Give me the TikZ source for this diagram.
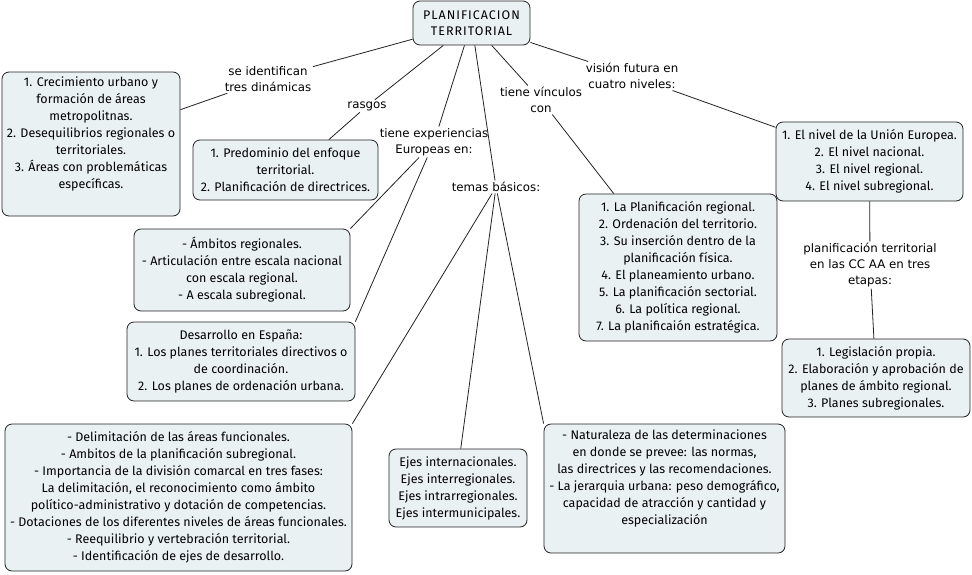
\documentclass[tikz,border=0pt]{standalone}
\usepackage{fontspec}
\setmainfont{Fira Sans}
\newfontfamily\lblfamily{DejaVu Sans}
\newfontfamily\boxfamily{Fira Sans}
\newfontfamily\capsfamily[LetterSpace=8]{Fira Sans}
\definecolor{boxfill}{HTML}{EAF1F3}
\definecolor{edgecol}{HTML}{222222}
\begin{document}
\begin{tikzpicture}[x=1pt,y=-1pt,
  box/.style={draw=edgecol, line width=0.8pt, rounded corners=7pt, fill=boxfill,
    align=center, inner sep=0pt, font=\boxfamily\fontsize{12.5}{17}\selectfont},
  lbl/.style={align=center, inner sep=1.5pt, font=\lblfamily\fontsize{11.8}{16}\selectfont},
  conn/.style={draw=edgecol, line width=0.8pt}]
\useasboundingbox (0,0) rectangle (972,574);

% boxes
\node[box, minimum width=117pt, minimum height=44pt, font=\capsfamily\fontsize{12.5}{16}\selectfont] (T) at (471.5,23) {PLANIFICACION\\TERRITORIAL};
\node[box, minimum width=178pt, minimum height=144pt] (A) at (91,144)
  {1. Crecimiento urbano y\\formación de áreas\\metropolitnas.\\2. Desequilibrios regionales o\\territoriales.\\3. Áreas con problemáticas\\específicas.\\\strut};
\node[box, minimum width=185pt, minimum height=60pt] (B) at (285.5,170)
  {1. Predominio del enfoque\\territorial.\\2. Planificación de directrices.};
\node[box, minimum width=216pt, minimum height=82pt] (C) at (242,270)
  {- Ámbitos regionales.\\- Articulación entre escala nacional\\con escala regional.\\- A escala subregional.};
\node[box, minimum width=228pt, minimum height=79pt] (D) at (241,361.5)
  {Desarrollo en España:\\1. Los planes territoriales directivos o\\de coordinación.\\2. Los planes de ordenación urbana.};
\node[box, minimum width=347pt, minimum height=147pt] (E) at (178.5,497.5)
  {- Delimitación de las áreas funcionales.\\- Ambitos de la planificación subregional.\\- Importancia de la división comarcal en tres fases:\\La delimitación, el reconocimiento como ámbito\\político-administrativo y dotación de competencias.\\- Dotaciones de los diferentes niveles de áreas funcionales.\\- Reequilibrio y vertebración territorial.\\- Identificación de ejes de desarrollo.};
\node[box, minimum width=138pt, minimum height=78pt] (F) at (458,488)
  {Ejes internacionales.\\Ejes interregionales.\\Ejes intrarregionales.\\Ejes intermunicipales.};
\node[box, minimum width=241pt, minimum height=129pt] (G) at (664.5,488.5)
  {- Naturaleza de las determinaciones\\en donde se prevee: las normas,\\las directrices y las recomendaciones.\\- La jerarquia urbana: peso demográfico,\\capacidad de atracción y cantidad y\\especialización\\\strut};
\node[box, minimum width=198pt, minimum height=147pt] (H) at (678,267.5)
  {1. La Planificación regional.\\2. Ordenación del territorio.\\3. Su inserción dentro de la\\planificación física.\\4. El planeamiento urbano.\\5. La planificación sectorial.\\6. La política regional.\\7. La planificaión estratégica.};
\node[box, minimum width=187pt, minimum height=79pt] (I) at (869.5,161.5)
  {1. El nivel de la Unión Europea.\\2. El nivel nacional.\\3. El nivel regional.\\4. El nivel subregional.};
\node[box, minimum width=188pt, minimum height=78pt] (J) at (876,378)
  {1. Legislación propia.\\2. Elaboración y aprobación de\\planes de ámbito regional.\\3. Planes subregionales.};

% link labels
\node[lbl] (L1) at (268,79) {se identifican\\tres dinámicas};
\node[lbl] (L2) at (367,106) {rasgos};
\node[lbl] (L3) at (434,142) {tiene experiencias\\Europeas en:};
\node[lbl] (L4) at (496,187) {temas básicos:};
\node[lbl] (L5) at (541,100) {tiene vínculos\\con};
\node[lbl] (L6) at (632,76) {visión futura en\\cuatro niveles:};
\node[lbl] (L7) at (870,265) {planificación territorial\\en las CC AA en tres\\etapas:};

% connectors
\draw[conn] (T) -- (L1);
\draw[conn] (L1) -- (A.21);
\draw[conn] (T) -- (L2);
\draw[conn] (L2) -- (B.35);
\draw[conn] (T) -- (L3);
\draw[conn] (L3) -- (C.north east);
\draw[conn] (L3) -- (D.north east);
\draw[conn] (T) -- (L4);
\draw[conn] (L4) -- (E.north east);
\draw[conn] (L4) -- (F.86);
\draw[conn] (L4) -- (G.north west);
\draw[conn] (T) -- (L5);
\draw[conn] (L5) -- (H.131);
\draw[conn] (T) -- (L6);
\draw[conn] (L6) -- (I.160);
\draw[conn] (I) -- (L7);
\draw[conn] (L7) -- (J);
\end{tikzpicture}
\end{document}
